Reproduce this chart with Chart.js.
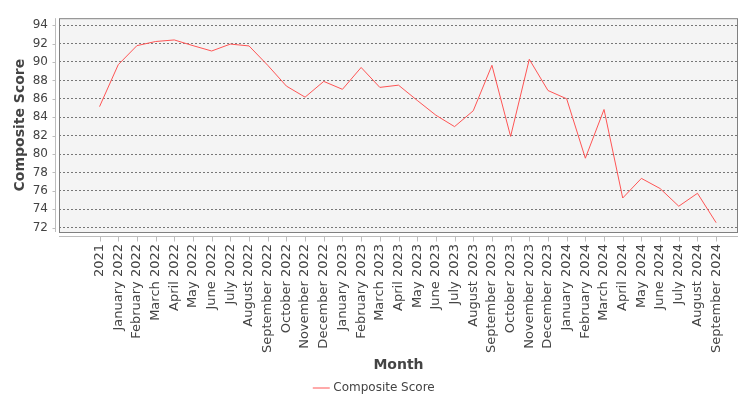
<!DOCTYPE html>
<html>
<head>
<meta charset="utf-8">
<script src="https://cdn.jsdelivr.net/npm/chart.js@4"></script>
<style>
  html, body { margin: 0; padding: 0; background: #fff; }
  #wrap { width: 750px; height: 400px; }
</style>
</head>
<body>
<div id="wrap"><canvas id="myChart"></canvas></div>
<script>
const months = [
    '2021', 'January 2022', 'February 2022', 'March 2022', 'April 2022', 'May 2022',
    'June 2022', 'July 2022', 'August 2022', 'September 2022', 'October 2022',
    'November 2022', 'December 2022', 'January 2023', 'February 2023', 'March 2023',
    'April 2023', 'May 2023', 'June 2023', 'July 2023', 'August 2023',
    'September 2023', 'October 2023', 'November 2023', 'December 2023',
    'January 2024', 'February 2024', 'March 2024', 'April 2024', 'May 2024',
    'June 2024', 'July 2024', 'August 2024', 'September 2024'
]
const scores = [
    85.15, 89.7, 91.77, 92.22, 92.39, 91.77, 91.19, 91.94, 91.74, 89.64, 87.38,
    86.18, 87.89, 87.03, 89.4, 87.24, 87.48, 85.83, 84.22, 82.98, 84.7,
    89.64, 81.92, 90.29, 86.9, 86.0, 79.55, 84.84, 75.23, 77.36, 76.26,
    74.34, 75.74, 72.55
]
const yTicks = [72, 74, 76, 78, 80, 82, 84, 86, 88, 90, 92, 94]

Chart.defaults.font.family = "'DejaVu Sans', sans-serif"
Chart.defaults.color = '#444'

// plot background, border and the detached axis lines
const plotFrame = {
    id: 'plotFrame',
    beforeDraw(chart) {
        const {ctx, chartArea: a} = chart
        ctx.save()
        ctx.fillStyle = '#fff'
        ctx.fillRect(0, 0, chart.width, chart.height)
        ctx.fillStyle = '#f4f4f4'
        ctx.fillRect(a.left, a.top, a.right - a.left, a.bottom - a.top)
        ctx.restore()
    },
    afterDraw(chart) {
        const {ctx, chartArea: a, scales} = chart
        ctx.save()
        ctx.strokeStyle = '#808080'
        ctx.lineWidth = 1
        ctx.strokeRect(a.left + 0.5, a.top + 0.5, a.right - a.left - 1, a.bottom - a.top)
        // axes
        ctx.strokeStyle = '#bdbdbd'
        const ax = a.left - 3.5
        const ay = a.bottom + 4.5
        ctx.beginPath()
        ctx.moveTo(ax, a.top)
        ctx.lineTo(ax, a.bottom)
        ctx.moveTo(a.left, ay)
        ctx.lineTo(a.right, ay)
        yTicks.forEach(v => {
            const py = Math.round(scales.y.getPixelForValue(v)) + 0.5
            ctx.moveTo(ax, py)
            ctx.lineTo(ax - 3, py)
        })
        months.forEach((m, i) => {
            const px = Math.round(scales.x.getPixelForValue(i)) + 0.5
            ctx.moveTo(px, ay)
            ctx.lineTo(px, ay + 5)
        })
        ctx.stroke()
        ctx.restore()
    }
}

const ctx = document.getElementById('myChart').getContext('2d')
const myChart = new Chart(ctx, {
    type: 'line',
    data: {
        datasets: [{
            label: 'Composite Score',
            data: scores.map((v, i) => ({x: i, y: v})),
            borderColor: 'rgba(255, 85, 85, 1)',
            backgroundColor: 'rgba(255, 85, 85, 1)',
            borderWidth: 1,
            pointRadius: 0,
            pointStyle: 'line',
            tension: 0,
            fill: false
        }]
    },
    options: {
        responsive: true,
        maintainAspectRatio: false,
        animation: false,
        layout: {
            padding: {left: 12, right: 12, top: 8, bottom: -4}
        },
        plugins: {
            legend: {
                position: 'bottom',
                labels: {
                    usePointStyle: true,
                    boxWidth: 14,
                    boxHeight: 12,
                    padding: 0,
                    font: {size: 12},
                    color: '#444'
                }
            },
            tooltip: {enabled: false}
        },
        scales: {
            x: {
                type: 'linear',
                min: -2.17,
                max: 34.17,
                afterBuildTicks: axis => {
                    axis.ticks = months.map((m, i) => ({value: i}))
                },
                afterFit: axis => {
                    axis.height = 150
                },
                ticks: {
                    autoSkip: false,
                    minRotation: 90,
                    maxRotation: 90,
                    padding: 12,
                    font: {size: 13},
                    color: '#444',
                    callback: v => months[v]
                },
                grid: {display: false, drawTicks: false},
                border: {display: false},
                title: {
                    display: true,
                    text: 'Month',
                    font: {size: 14, weight: 'bold'},
                    color: '#444',
                    padding: {top: 0, bottom: 8}
                }
            },
            y: {
                min: 71.54,
                max: 94.75,
                afterBuildTicks: axis => {
                    axis.ticks = yTicks.map(v => ({value: v}))
                },
                afterFit: axis => {
                    axis.width = 47
                },
                ticks: {
                    padding: 11,
                    font: {size: 12},
                    color: '#444'
                },
                grid: {
                    drawTicks: false,
                    color: '#777',
                    lineWidth: 1
                },
                border: {display: false, dash: [2, 2]},
                title: {
                    display: true,
                    text: 'Composite Score',
                    font: {size: 14, weight: 'bold'},
                    color: '#444',
                    padding: {top: 0, bottom: 0}
                }
            }
        }
    },
    plugins: [plotFrame]
})
</script>
</body>
</html>
